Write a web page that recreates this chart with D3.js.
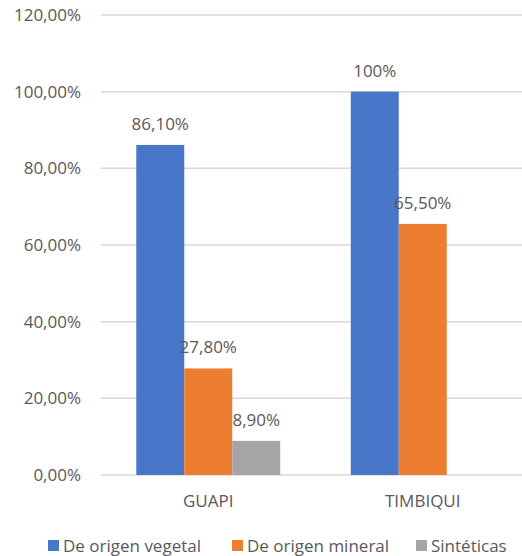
<!DOCTYPE html>
<html><head><meta charset="utf-8">
<script src="https://cdn.jsdelivr.net/npm/d3@7"></script>
<style>
html,body{margin:0;padding:0;background:#fff;}
text{font-family:"Open Sans","Noto Sans",sans-serif;fill:#595959;}
</style></head>
<body><svg id="c" width="522" height="556"></svg>
<script>
const categories = ["GUAPI", "TIMBIQUI"];
const seriesNames = ["De origen vegetal", "De origen mineral", "Sintéticas"];
const vegetal = [86.1, 100];
const mineral = [27.8, 65.5];
const sinteticas = [8.9, 0];
const vegetalLabels = ["86,10%", "100%"];
const mineralLabels = ["27,80%", "65,50%"];
const sinteticasLabels = ["8,90%", ""];
const yTicks = [0, 20, 40, 60, 80, 100, 120];
const yTickLabels = ["0,00%", "20,00%", "40,00%", "60,00%", "80,00%", "100,00%", "120,00%"];
const colors = ["#4877CA", "#ED7D31", "#A5A5A5"];

const series = [vegetal, mineral, sinteticas];
const seriesLabels = [vegetalLabels, mineralLabels, sinteticasLabels];

const svg = d3.select("#c");
const pLeft = 101, pRight = 530, pTop = 15, pBottom = 475;
const fs = 17;
const y = d3.scaleLinear().domain([0, 120]).range([pBottom, pTop]);
const x = d3.scaleBand().domain(categories).range([pLeft, pRight]).padding(0);
const groupW = x.bandwidth() * 0.671;
const xs = d3.scaleBand().domain(d3.range(series.length)).range([0, groupW]).padding(0);

svg.append("g").selectAll("line").data(yTicks).join("line")
  .attr("x1", pLeft).attr("x2", 522)
  .attr("y1", d => y(d)).attr("y2", d => y(d))
  .attr("stroke", "#d9d9d9").attr("stroke-width", 1.5);

svg.append("g").selectAll("text").data(yTicks).join("text")
  .attr("x", 81).attr("y", d => y(d) + 6)
  .attr("text-anchor", "end").attr("font-size", fs)
  .text((d, i) => yTickLabels[i]);

series.forEach((vals, si) => {
  const g = svg.append("g");
  g.selectAll("rect").data(categories).join("rect")
    .attr("x", (c) => x(c) + (x.bandwidth() - groupW) / 2 + xs(si))
    .attr("width", xs.bandwidth())
    .attr("y", (c, i) => y(vals[i]))
    .attr("height", (c, i) => y(0) - y(vals[i]))
    .attr("fill", colors[si]);
  g.selectAll("text").data(categories).join("text")
    .attr("x", (c) => x(c) + (x.bandwidth() - groupW) / 2 + xs(si) + xs.bandwidth() / 2)
    .attr("y", (c, i) => y(vals[i]) - 15)
    .attr("text-anchor", "middle").attr("font-size", fs)
    .text((c, i) => seriesLabels[si][i]);
});

svg.append("g").selectAll("text").data(categories).join("text")
  .attr("x", c => x(c) + x.bandwidth() / 2)
  .attr("y", 507)
  .attr("text-anchor", "middle").attr("font-size", fs)
  .text(c => c);

const legendX = [48, 232, 416];
const lg = svg.append("g");
seriesNames.forEach((n, i) => {
  lg.append("rect").attr("x", legendX[i]).attr("y", 540).attr("width", 11).attr("height", 11).attr("fill", colors[i]);
  lg.append("text").attr("x", legendX[i] + 15).attr("y", 552).attr("font-size", fs).text(n);
});
</script></body></html>
